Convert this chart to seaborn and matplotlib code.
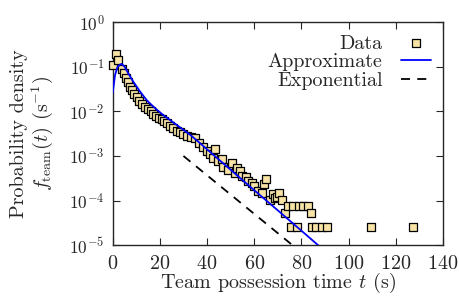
import numpy as np
import pandas as pd
import matplotlib
matplotlib.use("Agg")
import matplotlib.pyplot as plt
import seaborn as sns
from matplotlib.ticker import NullLocator, MultipleLocator, LogLocator

# data points (t in s, density in 1/s)
data_t = [0.0, 1.4, 2.4, 4.1, 4.8, 5.5, 6.3, 7.3, 8.2, 9.0,
          10.2, 11.3, 12.5, 13.7, 14.8, 16.1, 17.2, 18.3, 19.6, 20.8,
          21.9, 23.1, 24.3, 25.7, 27.1, 28.5, 29.9, 31.6, 33.0, 34.9,
          36.6, 38.4, 39.8, 41.2, 42.6, 43.3, 44.7, 46.4, 46.9, 49.0,
          50.4, 51.8, 52.5, 53.9, 54.7, 56.5, 57.5, 58.9, 59.9, 61.7,
          63.1, 64.1, 65.0, 66.7, 68.0, 68.8, 69.5, 70.5, 71.6, 73.0,
          74.3, 75.8, 76.4, 78.0, 78.9, 80.7, 82.8, 84.0, 84.6, 86.4,
          88.6, 90.7, 109.4, 127.4]
data_f = [0.111, 0.195, 0.145, 0.089, 0.072, 0.056, 0.045, 0.036, 0.030, 0.025,
          0.021, 0.017, 0.0145, 0.0129, 0.0112, 0.0100, 0.0089, 0.0079, 0.0072, 0.0068,
          0.0062, 0.0055, 0.0048, 0.0043, 0.0037, 0.0034, 0.0031, 0.0028, 0.0027, 0.0025,
          0.0020, 0.0016, 0.0013, 0.00112, 0.00089, 0.0014, 0.00076, 0.00087, 0.00058, 0.00049,
          0.00069, 0.00042, 0.00054, 0.00045, 0.00035, 0.00034, 0.00027, 0.00025, 0.00021, 0.00016,
          0.000148, 0.000234, 0.00030, 0.000105, 0.000141, 0.000115, 0.000123, 0.000151, 0.000105, 5.2e-5,
          7.7e-5, 2.6e-5, 7.7e-5, 2.6e-5, 7.7e-5, 7.7e-5, 7.7e-5, 5.2e-5, 2.6e-5, 2.6e-5,
          2.6e-5, 2.6e-5, 2.6e-5, 2.6e-5]

# approximate model curve
approx_t = [0, 1, 2, 3, 3.8, 5, 6.6, 8.7, 11.6, 14.4, 17.2, 21.4, 27.1, 32.8,
            37, 40, 50, 60, 70, 80, 87, 90]
approx_f = [0.0257, 0.066, 0.098, 0.112, 0.117, 0.102, 0.072, 0.047, 0.028, 0.018,
            0.0129, 0.0083, 0.0050, 0.0030, 0.00195, 0.00141, 0.00049, 0.00017,
            6.0e-5, 2.1e-5, 1.0e-5, 7.4e-6]

# exponential tail
expo_t = [30, 80]
expo_f = [1.0e-3, 6.8e-6]

sns.set_style("ticks")
plt.rcParams["font.family"] = "serif"
plt.rcParams["font.serif"] = ["cmr10"]
plt.rcParams["mathtext.fontset"] = "cm"
plt.rcParams["axes.formatter.use_mathtext"] = True
fs = 14.5

fig = plt.figure(figsize=(4.59, 2.97), dpi=100)
ax = fig.add_axes([0.2455, 0.175, 0.7195, 0.7495])

df = pd.DataFrame({"t": data_t, "f": data_f})
sns.scatterplot(data=df, x="t", y="f", ax=ax, marker="s", s=40,
                color="#f7e3a6", edgecolor="black", linewidth=0.9,
                label="Data", clip_on=False, zorder=3)
sns.lineplot(x=approx_t, y=approx_f, ax=ax, color="#0000ff", lw=1.3,
             label="Approximate", zorder=4)
sns.lineplot(x=expo_t, y=expo_f, ax=ax, color="black", lw=1.3,
             dashes=False, label="Exponential", zorder=2)
ax.lines[-1].set_dashes((5, 4))

ax.set_yscale("log")
ax.set_xlim(0, 140)
ax.set_ylim(1e-5, 1)
ax.xaxis.set_major_locator(MultipleLocator(20))
ax.yaxis.set_major_locator(LogLocator(base=10, numticks=12))
ax.yaxis.set_minor_locator(NullLocator())
ax.tick_params(direction="in", top=True, right=True, length=5, width=0.8, pad=7)
ax.tick_params(axis="x", labelsize=fs)
ax.tick_params(axis="y", labelsize=12.5, pad=6)
for sp in ax.spines.values():
    sp.set_linewidth(1.0)

ax.set_xlabel("Team possession time $t$ (s)", fontsize=fs, labelpad=-1)
ax.set_ylabel("Probability density\n$f_{\\rm team}(t)$ (s$^{-1}$)",
              fontsize=fs, linespacing=1.05)
ax.yaxis.set_label_coords(-0.175, 0.5)

leg = ax.legend(loc="upper right", frameon=False, markerfirst=False,
                fontsize=fs, handlelength=1.5, labelspacing=0.02,
                borderaxespad=0.2, handletextpad=0.9, markerscale=0.8)

fig.savefig("out.png", dpi=100)
